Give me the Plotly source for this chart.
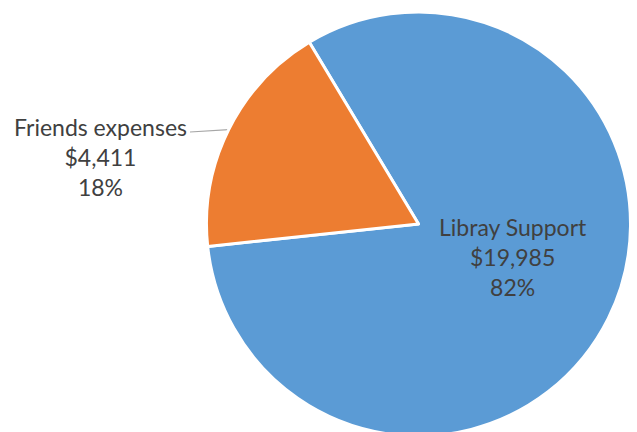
import math
import plotly.graph_objects as go

labels = ["Libray Support", "Friends expenses"]
values = [19985, 4411]
colors = ["#5B9BD5", "#ED7D31"]

W, H = 637, 440
cx, cy, r = 418.5, 224.0, 212.0
rotation = -31  # first slice starts 31 deg CCW from 12 o'clock, clockwise

fig = go.Figure()
fig.add_trace(go.Pie(
    labels=labels, values=values, sort=False, direction="clockwise",
    rotation=rotation,
    marker=dict(colors=colors, line=dict(color="white", width=3)),
    textinfo="none", hoverinfo="skip", showlegend=False,
    domain=dict(x=[(cx - r) / W, (cx + r) / W], y=[1 - (cy + r) / H, 1 - (cy - r) / H]),
))

total = sum(values)
font = dict(family="Lato", size=23, color="#404040")

def label_text(i):
    pct = round(values[i] / total * 100)
    return f"{labels[i]}<br>${values[i]:,}<br>{pct}%"

# slice angles (clockwise from 12 o'clock)
start = rotation
angles = []
for v in values:
    span = v / total * 360
    angles.append((start, start + span))
    start += span

# Library Support label (inside)
fig.add_annotation(x=513 / W, y=1 - 257 / H, xref="paper", yref="paper",
                   xanchor="center", yanchor="middle",
                   text=label_text(0), showarrow=False, font=font, align="center")
# Friends expenses label (outside) with leader line
fig.add_annotation(x=100 / W, y=1 - 157 / H, xref="paper", yref="paper",
                   xanchor="center", yanchor="middle",
                   text=label_text(1), showarrow=False, font=font, align="center")
mid = math.radians(sum(angles[1]) / 2)
ex, ey = cx + r * math.sin(mid), cy - r * math.cos(mid)
fig.add_shape(type="line", xref="paper", yref="paper",
              x0=190 / W, y0=1 - 132 / H, x1=ex / W, y1=1 - ey / H,
              line=dict(color="#A6A6A6", width=1.2), layer="below")

fig.update_layout(width=W, height=H, margin=dict(l=0, r=0, t=0, b=0),
                  paper_bgcolor="white", plot_bgcolor="white")
fig.write_html("out.html", config={"displayModeBar": False},
               post_script="document.body.style.margin='0';document.body.style.overflow='hidden';")
